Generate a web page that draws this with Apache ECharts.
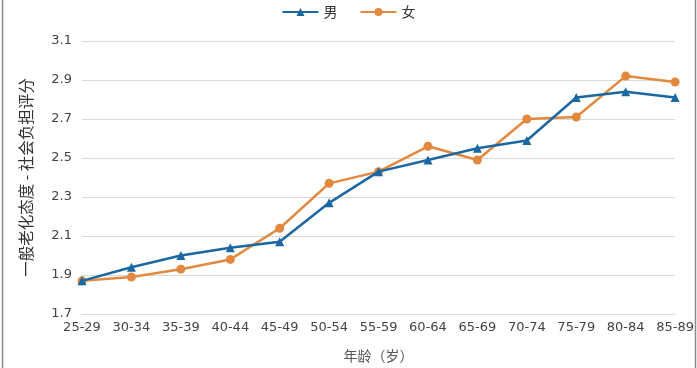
<!DOCTYPE html>
<html><head><meta charset="utf-8">
<script src="https://cdn.jsdelivr.net/npm/echarts@6/dist/echarts.min.js"></script>
<style>html,body{margin:0;padding:0;background:#fff}#c{width:697px;height:368px}</style>
</head><body><div id="c"></div>
<script>
const categories = ['25-29','30-34','35-39','40-44','45-49','50-54','55-59','60-64','65-69','70-74','75-79','80-84','85-89'];
const maleValues = [1.87,1.94,2.00,2.04,2.07,2.27,2.43,2.49,2.55,2.59,2.81,2.84,2.81];
const femaleValues = [1.87,1.89,1.93,1.98,2.14,2.37,2.43,2.56,2.49,2.70,2.71,2.92,2.89];
const seriesNames = ['男','女'];
const yTicks = {min:1.7, max:3.1, interval:0.2};

const font = '"Noto Sans CJK SC","DejaVu Sans",sans-serif';
const chart = echarts.init(document.getElementById('c'));
chart.setOption({
  animation:false,
  backgroundColor:'#fff',
  legend:{
    top:0, left:'center', itemWidth:36, itemHeight:10, itemGap:22,
    textStyle:{fontFamily:font, fontSize:14, color:'#333'},
    data:seriesNames
  },
  grid:{left:82, right:19, top:41, bottom:53},
  xAxis:{
    type:'category', data:categories, boundaryGap:false,
    axisLine:{lineStyle:{color:'#d9d9d9'}},
    axisTick:{show:false},
    axisLabel:{color:'#444', fontSize:13, fontFamily:'"DejaVu Sans",sans-serif', margin:7, interval:0},
    name:'年龄（岁）', nameLocation:'middle', nameGap:35,
    nameTextStyle:{fontFamily:font, fontSize:14, color:'#555'}
  },
  yAxis:{
    type:'value', min:yTicks.min, max:yTicks.max, interval:yTicks.interval,
    axisLine:{show:false}, axisTick:{show:false},
    splitLine:{lineStyle:{color:'#d9d9d9', width:1}},
    axisLabel:{color:'#444', fontSize:13, fontFamily:'"DejaVu Sans",sans-serif', margin:10,
      formatter:v=>v.toFixed(1)},
    name:'一般老化态度 - 社会负担评分', nameLocation:'middle', nameGap:48, nameRotate:90,
    nameTextStyle:{fontFamily:font, fontSize:15.5, color:'#333'}
  },
  series:[
    {name:seriesNames[0], type:'line', data:maleValues, symbol:'triangle', symbolSize:9,
     itemStyle:{color:'#1b67a2'}, lineStyle:{width:2.5, color:'#1b67a2'}, z:3},
    {name:seriesNames[1], type:'line', data:femaleValues, symbol:'circle', symbolSize:9,
     itemStyle:{color:'#e3893f'}, lineStyle:{width:2.5, color:'#e3893f'}, z:2}
  ],
  graphic:[
    {type:'line', shape:{x1:2.5,y1:0,x2:2.5,y2:368}, style:{stroke:'#888', lineWidth:1.5}},
    {type:'line', shape:{x1:695.5,y1:0,x2:695.5,y2:368}, style:{stroke:'#888', lineWidth:1.5}}
  ]
});
</script></body></html>
